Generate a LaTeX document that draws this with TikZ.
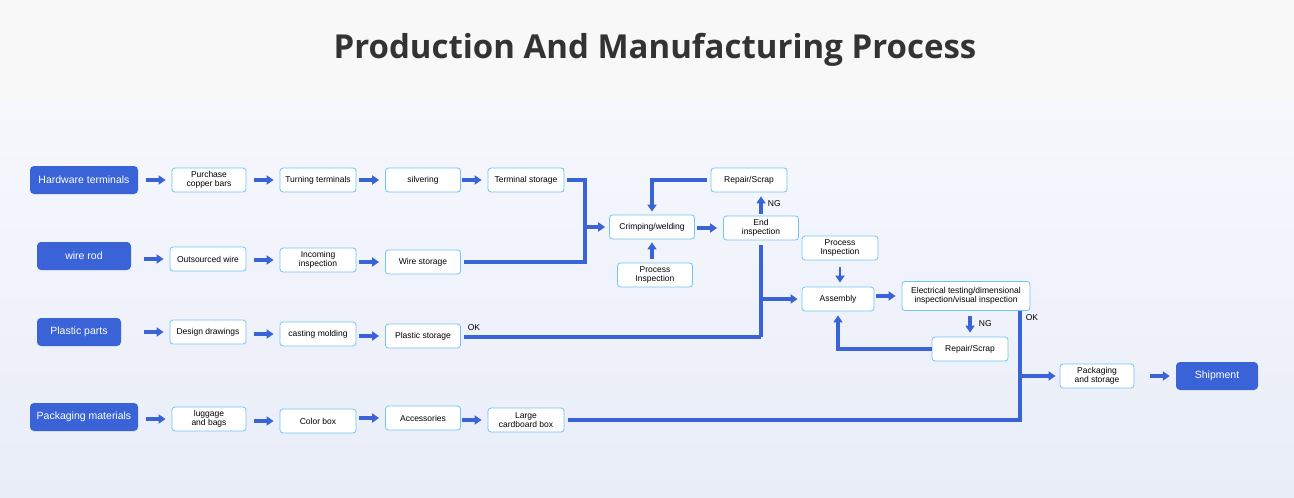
\documentclass[tikz,border=0pt]{standalone}
\usepackage{fontspec}
\setmainfont{Liberation Sans}
\newfontfamily\titlefont{Open Sans}
\usetikzlibrary{arrows.meta}
\definecolor{bl}{HTML}{3A63D8}
\definecolor{bd}{HTML}{72C4F2}
\definecolor{hd}{HTML}{F8F8F9}
\definecolor{bgt}{HTML}{F6F8FD}
\definecolor{bgb}{HTML}{E9EDF8}
\begin{document}
\begin{tikzpicture}[x=1pt,y=-1pt,
 wb/.style={draw=bd,fill=white,rounded corners=3pt,line width=0.8pt,minimum height=24pt,align=center,font=\fontsize{8.5}{9}\selectfont,inner sep=1pt},
 bb/.style={fill=bl,text=white,rounded corners=4pt,minimum height=28pt,font=\fontsize{10.5}{12}\selectfont},
 ln/.style={draw=bl,line width=3.2pt},
 ar/.style={ln,-{Triangle[length=7pt,width=9pt]}},
 lb/.style={font=\fontsize{8.5}{9}\selectfont}]
\useasboundingbox (0,0) rectangle (1294,498);
\shade[top color=bgt,bottom color=bgb] (0,100) rectangle (1294,498);
\fill[hd] (0,0) rectangle (1294,100);
\node[font=\titlefont\bfseries\fontsize{33}{40}\selectfont,text=black!80] (title) at (655,50) {Production And Manufacturing Process};
% blue
\node[bb,minimum width=108pt] (hw) at (84,180) {Hardware terminals};
\node[bb,minimum width=94pt] (wr) at (84,256) {wire rod};
\node[bb,minimum width=84pt] (pp) at (79,332) {Plastic parts};
\node[bb,minimum width=108pt] (pm) at (84,417) {Packaging materials};
\node[bb,minimum width=82pt] (sh) at (1217,376) {Shipment};
% rows
\node[wb,minimum width=74pt] (a1) at (209,180) {Purchase\\copper bars};
\node[wb,minimum width=76pt] (a2) at (318,180) {Turning terminals};
\node[wb,minimum width=75pt] (a3) at (423,180) {silvering};
\node[wb,minimum width=76pt] (a4) at (526,180) {Terminal storage};
\node[wb,minimum width=76pt] (b1) at (208,259) {Outsourced wire};
\node[wb,minimum width=76pt] (b2) at (318,260) {Incoming\\inspection};
\node[wb,minimum width=75pt] (b3) at (423,262) {Wire storage};
\node[wb,minimum width=76pt] (c1) at (208,332) {Design drawings};
\node[wb,minimum width=76pt] (c2) at (318,334) {casting molding};
\node[wb,minimum width=75pt] (c3) at (423,336) {Plastic storage};
\node[wb,minimum width=74pt] (d1) at (209,419) {luggage\\and bags};
\node[wb,minimum width=76pt] (d2) at (318,421) {Color box};
\node[wb,minimum width=75pt] (d3) at (423,418) {Accessories};
\node[wb,minimum width=76pt] (d4) at (526,420) {Large\\cardboard box};
\node[wb,minimum width=85pt] (cw) at (652,227) {Crimping/welding};
\node[wb,minimum width=75pt] (ei) at (761,228) {End\\inspection};
\node[wb,minimum width=76pt] (r1) at (749,180) {Repair/Scrap};
\node[wb,minimum width=75pt] (p1) at (655,275) {Process\\Inspection};
\node[wb,minimum width=76pt] (p2) at (840,248) {Process\\Inspection};
\node[wb,minimum width=72pt] (as) at (838,299) {Assembly};
\node[wb,minimum width=128pt,minimum height=29pt] (et) at (966,296) {Electrical testing/dimensional\\inspection/visual inspection};
\node[wb,minimum width=76pt] (r2) at (970,349) {Repair/Scrap};
\node[wb,minimum width=74pt] (ps) at (1097,376) {Packaging\\and storage};
% row arrows
\foreach \u/\v in {hw/a1,a1/a2,a2/a3,a3/a4,wr/b1,b1/b2,b2/b3,pp/c1,c1/c2,c2/c3,pm/d1,d1/d2,d2/d3,d3/d4,cw/ei,as/et,ps/sh}
  \draw[ar] ([xshift=-26pt]\v.west) -- ([xshift=-6pt]\v.west);
% merges
\coordinate (m1) at (585,227);
\draw[ln] ([xshift=3pt]a4.east) -| (m1);
\draw[ln] ([xshift=3pt]b3.east) -| (m1);
\draw[ar,shorten >=4pt] (m1) -- (cw.west);
\draw[ar,shorten >=3pt] ([xshift=-4pt]r1.west) -| (cw.north);
\draw[ar,shorten <=4pt,shorten >=3pt] (p1.north-|cw.south) -- (cw.south);
\draw[ar,shorten <=2pt,shorten >=4pt] (ei.north) -- (ei.north|-r1.south) node[lb,midway,right=2pt] {NG};
\coordinate (m2) at (761,337);
\draw[ln,shorten <=5pt] (ei.south) -- (m2);
\draw[ln] ([xshift=3pt]c3.east|-m2) -- (m2);
\node[lb] (ok1) at (474,328) {OK};
\coordinate (m3) at (761,299);
\draw[ar,shorten >=4pt] (m3) -- (as.west);
\draw[ar,line width=2.5pt,shorten <=7pt,shorten >=4pt] (p2.south) -- (p2.south|-as.north);
\draw[ar,shorten <=5pt,shorten >=4pt] (et.south-|r2.north) -- (r2.north) node[lb,midway,right=4pt] {NG};
\draw[ar,shorten >=4pt] (r2.west) -| (as.south);
\coordinate (m4) at (1020,420);
\draw[ln] ([xshift=4pt]d4.east) -- (m4) -- (1020,311);
\node[lb] (ok2) at (1032,318) {OK};
\draw[ar,shorten >=4pt] (1020,376) -- (ps.west);
\end{tikzpicture}
\end{document}
